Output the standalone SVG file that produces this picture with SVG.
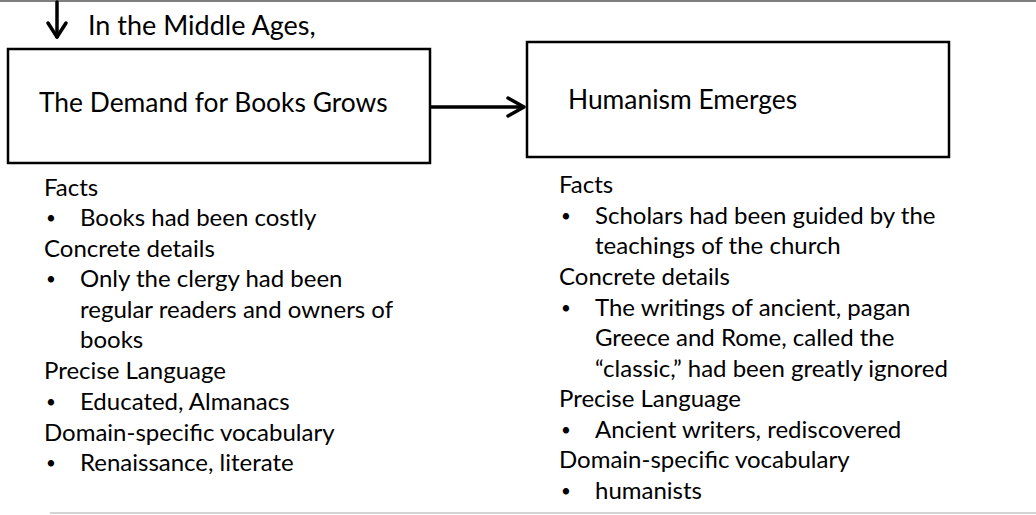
<svg xmlns="http://www.w3.org/2000/svg" width="1036" height="515" viewBox="0 0 1036 515">
  <style>
    text { font-family: Lato, "Open Sans", "Liberation Sans", sans-serif; fill: #000; }
    .intro { font-size: 27px; }
    .head { font-size: 26.4px; }
    .list { font-size: 24px; }
    .dot { font-size: 17px; }
    .box { fill: #fff; stroke: #000; stroke-width: 2.5; }
    .conn { fill: none; stroke: #000; stroke-width: 3.5; stroke-linecap: round; stroke-linejoin: round; }
  </style>
  <rect width="1036" height="515" fill="#fff"/>

  <!-- page rules -->
  <line x1="0" y1="1" x2="1036" y2="1" stroke="#7f7f7f" stroke-width="2"/>
  <line x1="50" y1="513" x2="1036" y2="513" stroke="#d4d4d4" stroke-width="2"/>

  <g id="connectors">
    <!-- down arrow into the first stage -->
    <path class="conn" d="M57 2 V37"/>
    <path class="conn" d="M48 23 L57 37 L66 23"/>
    <!-- stage to stage -->
    <path class="conn" d="M430 107 H523"/>
    <path class="conn" d="M508 98 L524 107 L508 116"/>
  </g>

  <g id="intro">
    <text class="intro" x="88" y="35">In the Middle Ages,</text>
  </g>

  <g id="node-demand">
    <rect class="box" x="8" y="49" width="422" height="114"/>
    <text class="head" x="39" y="112">The Demand for Books Grows</text>
  </g>

  <g id="node-humanism">
    <rect class="box" x="527" y="42" width="422" height="115"/>
    <text class="head" x="568" y="109">Humanism Emerges</text>
  </g>

  <g id="notes-demand">
    <text class="list" x="44" y="196">Facts</text>
    <text class="dot" x="46" y="224">•</text>
    <text class="list" x="80" y="226">Books had been costly</text>
    <text class="list" x="44" y="257">Concrete details</text>
    <text class="dot" x="46" y="285">•</text>
    <text class="list" x="80" y="287">Only the clergy had been</text>
    <text class="list" x="80" y="318">regular readers and owners of</text>
    <text class="list" x="80" y="348">books</text>
    <text class="list" x="44" y="379">Precise Language</text>
    <text class="dot" x="46" y="408">•</text>
    <text class="list" x="80" y="410">Educated, Almanacs</text>
    <text class="list" x="44" y="441">Domain-specific vocabulary</text>
    <text class="dot" x="46" y="469">•</text>
    <text class="list" x="80" y="471">Renaissance, literate</text>
  </g>

  <g id="notes-humanism">
    <text class="list" x="559" y="193">Facts</text>
    <text class="dot" x="561" y="222">•</text>
    <text class="list" x="595" y="224">Scholars had been guided by the</text>
    <text class="list" x="595" y="254">teachings of the church</text>
    <text class="list" x="559" y="285">Concrete details</text>
    <text class="dot" x="561" y="314">•</text>
    <text class="list" x="595" y="316">The writings of ancient, pagan</text>
    <text class="list" x="595" y="346">Greece and Rome, called the</text>
    <text class="list" x="595" y="377">“classic,” had been greatly ignored</text>
    <text class="list" x="559" y="407">Precise Language</text>
    <text class="dot" x="561" y="436">•</text>
    <text class="list" x="595" y="438">Ancient writers, rediscovered</text>
    <text class="list" x="559" y="468">Domain-specific vocabulary</text>
    <text class="dot" x="561" y="497">•</text>
    <text class="list" x="595" y="499">humanists</text>
  </g>
</svg>
